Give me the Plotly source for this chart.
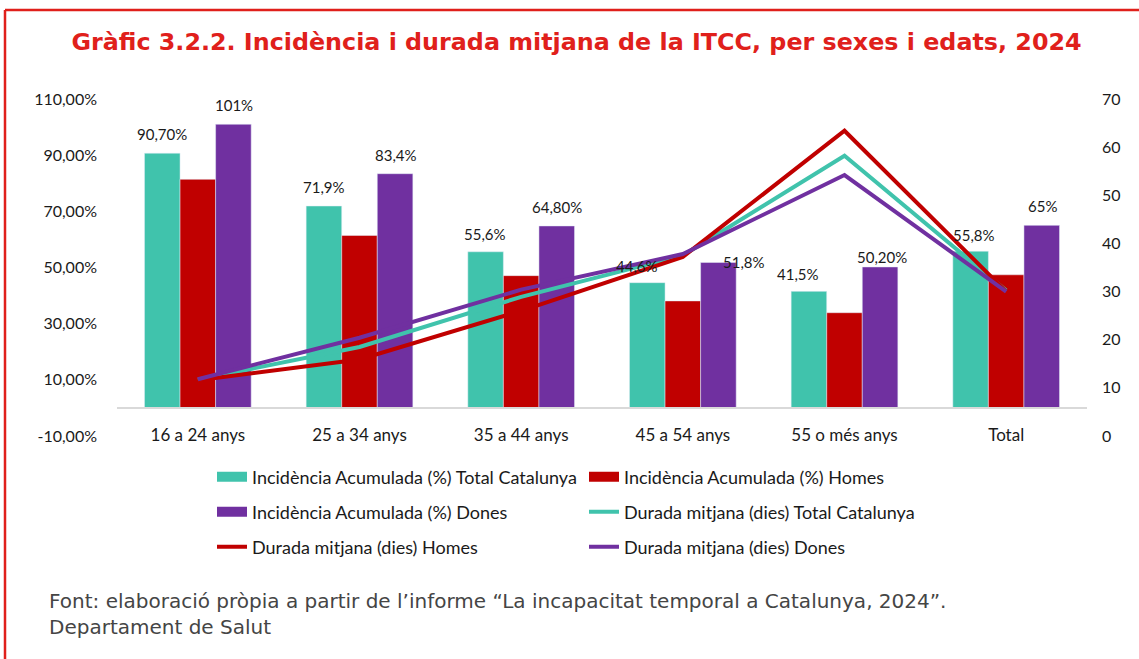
import plotly.graph_objects as go

# ---------------- data ----------------
categories = ["16 a 24 anys", "25 a 34 anys", "35 a 44 anys", "45 a 54 anys", "55 o més anys", "Total"]

inc_total = [90.7, 71.9, 55.6, 44.6, 41.5, 55.8]
inc_homes = [81.4, 61.4, 47.1, 38.1, 33.9, 47.4]
inc_dones = [101.0, 83.4, 64.8, 51.8, 50.2, 65.0]

dur_total = [11.7, 18.5, 28.9, 37.5, 58.2, 30.2]
dur_homes = [11.6, 15.9, 26.0, 37.2, 63.4, 30.0]
dur_dones = [11.8, 20.4, 30.4, 37.8, 54.2, 30.0]

label_total = ["90,70%", "71,9%", "55,6%", "44,6%", "41,5%", "55,8%"]
label_dones = ["101%", "83,4%", "64,80%", "51,8%", "50,20%", "65%"]

left_tickvals = [-10, 10, 30, 50, 70, 90, 110]
left_ticktext = ["-10,00%", "10,00%", "30,00%", "50,00%", "70,00%", "90,00%", "110,00%"]
right_tickvals = [0, 10, 20, 30, 40, 50, 60, 70]

names = [
    "Incidència Acumulada (%) Total Catalunya",
    "Incidència Acumulada (%) Homes",
    "Incidència Acumulada (%) Dones",
    "Durada mitjana (dies) Total Catalunya",
    "Durada mitjana (dies) Homes",
    "Durada mitjana (dies) Dones",
]
title_text = "Gràfic 3.2.2. Incidència i durada mitjana de la ITCC, per sexes i edats, 2024"
source_text = ("Font: elaboració pròpia a partir de l’informe “La incapacitat temporal a Catalunya, 2024”.<br>"
               "Departament de Salut")

# ---------------- styles ----------------
TEAL = "#40C3AC"
RED = "#C00000"
PURPLE = "#7030A0"
FONT = "Lato"
TXT = "#1a1a1a"

W, H = 1139, 659
L, R, T, B = 117, 52, 99, 223
PW, PH = W - L - R, H - T - B


def px_x(px):
    return (px - L) / PW


def px_y(py):
    return (H - B - py) / PH


fig = go.Figure()

bar_specs = [(inc_total, names[0], TEAL), (inc_homes, names[1], RED), (inc_dones, names[2], PURPLE)]
for vals, nm, col in bar_specs:
    fig.add_bar(x=categories, y=vals, name=nm, marker_color=col, showlegend=False)

line_specs = [(dur_total, names[3], TEAL), (dur_homes, names[4], RED), (dur_dones, names[5], PURPLE)]
for vals, nm, col in line_specs:
    fig.add_scatter(x=categories, y=vals, name=nm, mode="lines", yaxis="y2",
                    line=dict(color=col, width=4), showlegend=False)

# legend entries (legend-only keys, bars shown as wide rectangles)
legend_keys = [
    (names[0], TEAL, 10, "legend"), (names[1], RED, 10, "legend"),
    (names[2], PURPLE, 10, "legend2"), (names[3], TEAL, 4, "legend2"),
    (names[4], RED, 4, "legend3"), (names[5], PURPLE, 4, "legend3"),
]
for nm, col, wd, lg in legend_keys:
    fig.add_scatter(x=[None], y=[None], name=nm, mode="lines", line=dict(color=col, width=wd),
                    legend=lg, showlegend=True, hoverinfo="skip")

# data labels (style offsets per label)
teal_shift = [(-36, 19), (-36, 19), (-36, 18), (-46, 17), (-47, 17), (-32, 16)]
purple_shift = [(36, 19), (36, 19), (36, 19), (61, 0), (37, 10), (36, 19)]
annotations = []
for i, c in enumerate(categories):
    annotations.append(dict(x=c, y=inc_total[i], xref="x", yref="y", text=label_total[i],
                            showarrow=False, xshift=teal_shift[i][0], yshift=teal_shift[i][1],
                            font=dict(family=FONT, size=15, color=TXT)))
    annotations.append(dict(x=c, y=inc_dones[i], xref="x", yref="y", text=label_dones[i],
                            showarrow=False, xshift=purple_shift[i][0], yshift=purple_shift[i][1],
                            font=dict(family=FONT, size=15, color=TXT)))

annotations.append(dict(x=px_x(47), y=px_y(614), xref="paper", yref="paper", xanchor="left",
                        yanchor="middle", align="left", showarrow=False, text=source_text,
                        font=dict(family="DejaVu Sans", size=20, color="#454545")))

legend_common = dict(orientation="h", xanchor="left", yanchor="middle", entrywidth=327,
                     entrywidthmode="pixels", font=dict(family=FONT, size=18, color=TXT),
                     bgcolor="rgba(0,0,0,0)", traceorder="normal")

fig.update_layout(
    width=W, height=H,
    margin=dict(l=L, r=R, t=T, b=B, autoexpand=False),
    paper_bgcolor="white", plot_bgcolor="white",
    barmode="group", bargap=0.34, bargroupgap=0,
    title=dict(text=title_text, x=576.5 / W, xanchor="center", y=1 - 42 / H, yanchor="middle",
               font=dict(family="DejaVu Sans", size=23.8, color="#E0201B", weight="bold")),
    xaxis=dict(type="category", anchor="free", position=px_y(408), showline=True,
               linecolor="#d9d9d9", linewidth=1.5, ticks="", showgrid=False, zeroline=False,
               ticklabelstandoff=12, tickfont=dict(family=FONT, size=17, color=TXT)),
    yaxis=dict(range=[-10, 110], tickvals=left_tickvals, ticktext=left_ticktext, showgrid=False,
               zeroline=False, showline=False, ticks="", ticklabelstandoff=19,
               tickfont=dict(family=FONT, size=16, color=TXT)),
    yaxis2=dict(range=[0, 70], tickvals=right_tickvals, overlaying="y", side="right",
                showgrid=False, zeroline=False, showline=False, ticks="", ticklabelstandoff=14,
                tickfont=dict(family=FONT, size=16, color=TXT)),
    legend=dict(x=px_x(212), y=px_y(477), **legend_common),
    legend2=dict(x=px_x(212), y=px_y(512), **legend_common),
    legend3=dict(x=px_x(212), y=px_y(547), **legend_common),
    annotations=annotations,
    shapes=[
        dict(type="line", xref="paper", yref="paper", x0=px_x(5), x1=px_x(W + 5), y0=px_y(10), y1=px_y(10),
             line=dict(color="#E0201B", width=2.5)),
        dict(type="line", xref="paper", yref="paper", x0=px_x(5), x1=px_x(5), y0=px_y(10), y1=px_y(H + 5),
             line=dict(color="#E0201B", width=2.5)),
    ],
)

fig.write_html("out.html", config={"displayModeBar": False},
               post_script="document.body.style.margin='0';")
